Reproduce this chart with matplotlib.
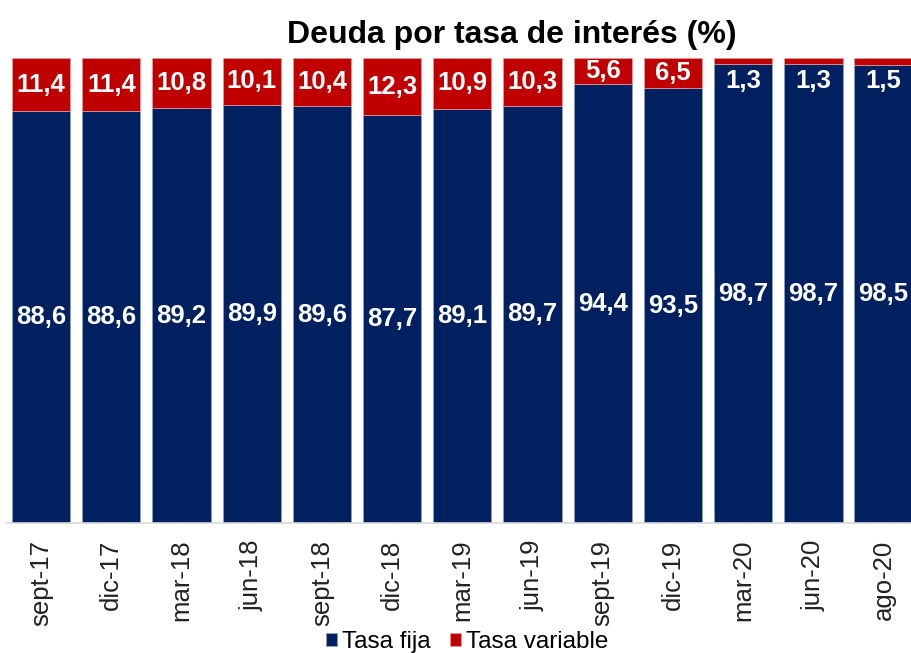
import matplotlib
matplotlib.use("Agg")
import matplotlib.pyplot as plt
import numpy as np

categories = ["sept-17", "dic-17", "mar-18", "jun-18", "sept-18", "dic-18", "mar-19",
              "jun-19", "sept-19", "dic-19", "mar-20", "jun-20", "ago-20"]
tasa_fija = [88.6, 88.6, 89.2, 89.9, 89.6, 87.7, 89.1, 89.7, 94.4, 93.5, 98.7, 98.7, 98.5]
tasa_variable = [11.4, 11.4, 10.8, 10.1, 10.4, 12.3, 10.9, 10.3, 5.6, 6.5, 1.3, 1.3, 1.5]

navy = "#002060"
red = "#C00000"

plt.rcParams['font.family'] = ['Liberation Sans', 'DejaVu Sans']

fig = plt.figure(figsize=(9.11, 6.53), dpi=100)
W, H = 911, 653
ax = fig.add_axes([6 / W, 1 - 523 / H, (911 - 6) / W, (523 - 58) / H])

x = np.arange(len(categories))
bw = 0.83
ax.bar(x, tasa_fija, width=bw, color=navy, label="Tasa fija", edgecolor="#8EA2C8", linewidth=0.5)
ax.bar(x, tasa_variable, width=bw, bottom=tasa_fija, color=red, label="Tasa variable",
       edgecolor="#E8A0A0", linewidth=0.5)

fmt = lambda v: f"{v:.1f}".replace(".", ",")
for xi, f, v in zip(x, tasa_fija, tasa_variable):
    ax.text(xi, f / 2, fmt(f), ha="center", va="center", color="white",
            fontsize=18.5, fontweight="bold")
    if v >= 3:
        yv = f + v / 2
    else:
        yv = 95.0
    ax.text(xi, yv, fmt(v), ha="center", va="center", color="white",
            fontsize=18.5, fontweight="bold")

ax.set_xlim(-0.5, 12.39)
ax.set_ylim(0, 100)
ax.set_yticks([])
ax.set_xticks(x)
ax.set_xticklabels(categories, rotation=90, fontsize=18.5, color="#222222")
ax.tick_params(axis="x", length=0, pad=12)
for s in ["top", "right", "left"]:
    ax.spines[s].set_visible(False)
ax.spines["bottom"].set_color("#D9D9D9")
ax.spines["bottom"].set_linewidth(1.2)

fig.text(512 / W, 1 - 35 / H, "Deuda por tasa de interés (%)", ha="center", va="center",
         fontsize=23, fontweight="bold")

leg = fig.legend(loc="center", bbox_to_anchor=(467 / W, 1 - 642 / H), ncol=2, frameon=False,
                 fontsize=17.5, handlelength=0.45, handleheight=0.45, handletextpad=0.2,
                 columnspacing=0.8)

fig.savefig("out.png", dpi=100)
